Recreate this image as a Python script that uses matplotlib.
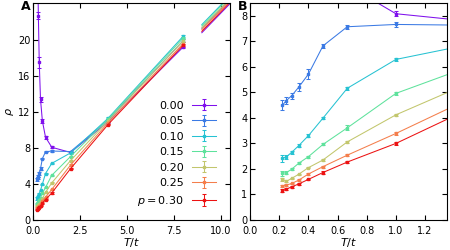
import numpy as np
import matplotlib
matplotlib.use("Agg")
import matplotlib.pyplot as plt

# ---------------- data ----------------
p_labels = ["0.00", "0.05", "0.10", "0.15", "0.20", "0.25", r"$p=$0.30"]
T = [0.2222, 0.25, 0.2857, 0.3333, 0.4, 0.5, 0.6667, 1.0, 2.0, 4.0, 8.0]

rho_p000 = [34.0, 28.0, 22.7, 17.5, 13.4, 11.0, 9.2, 8.08, 7.5, 10.9, 19.2]
rho_p005 = [4.50, 4.68, 4.87, 5.20, 5.71, 6.82, 7.57, 7.66, 7.6, 11.1, 19.9]
rho_p010 = [2.41, 2.48, 2.65, 2.91, 3.30, 3.99, 5.16, 6.29, 7.45, 11.3, 20.4]
rho_p015 = [1.83, 1.86, 1.99, 2.22, 2.48, 2.96, 3.61, 4.96, 7.05, 11.2, 20.2]
rho_p020 = [1.60, 1.52, 1.63, 1.79, 2.05, 2.35, 3.06, 4.12, 6.6, 11.0, 19.9]
rho_p025 = [1.34, 1.37, 1.43, 1.56, 1.80, 2.09, 2.54, 3.39, 6.1, 10.8, 19.6]
rho_p030 = [1.15, 1.21, 1.30, 1.41, 1.59, 1.86, 2.27, 3.00, 5.7, 10.6, 19.4]

err_p000 = [1.0, 0.8, 0.4, 0.6, 0.3, 0.2, 0.15, 0.1, 0.1, 0.1, 0.15]
err_p005 = [0.2, 0.12, 0.12, 0.15, 0.2, 0.07, 0.07, 0.1, 0.1, 0.1, 0.15]
err_p010 = [0.14, 0.08, 0.06, 0.05, 0.05, 0.05, 0.05, 0.06, 0.08, 0.1, 0.15]
err_p015 = [0.1, 0.04, 0.04, 0.04, 0.04, 0.04, 0.1, 0.05, 0.08, 0.1, 0.15]
err_p020 = [0.06, 0.04, 0.03, 0.03, 0.03, 0.03, 0.05, 0.05, 0.08, 0.1, 0.15]
err_p025 = [0.05, 0.03, 0.03, 0.05, 0.03, 0.04, 0.05, 0.05, 0.08, 0.1, 0.15]
err_p030 = [0.06, 0.04, 0.04, 0.03, 0.03, 0.04, 0.05, 0.06, 0.08, 0.1, 0.15]

# high-temperature continuation (separate segment in panel A)
T_hi = [9.0, 11.0]
rho_hi = [[20.8, 25.1], [21.3, 25.6], [21.7, 26.0], [21.55, 25.85],
          [21.35, 25.65], [21.15, 25.45], [20.95, 25.25]]

rho_all = [rho_p000, rho_p005, rho_p010, rho_p015, rho_p020, rho_p025, rho_p030]
err_all = [err_p000, err_p005, err_p010, err_p015, err_p020, err_p025, err_p030]

A_xticks = [0.0, 2.5, 5.0, 7.5, 10.0]
A_yticks = [0, 4, 8, 12, 16, 20]
B_xticks = [0.0, 0.2, 0.4, 0.6, 0.8, 1.0, 1.2]
B_yticks = [0, 1, 2, 3, 4, 5, 6, 7, 8]

colors = ['#7f10ec', '#3b7ae4', '#26c2d2', '#5ee29c', '#c2c66c', '#f47e4c', '#ec1212']

# ---------------- figure ----------------
plt.rcParams['font.family'] = ['DejaVu Sans']
fig = plt.figure(figsize=(4.5, 2.5), dpi=100)
axA = fig.add_axes([33/450, 30/250, 197/450, 217/250])
axB = fig.add_axes([250/450, 30/250, 197/450, 217/250])

handles = []
for ax in (axA, axB):
    for i, (rho, err) in enumerate(zip(rho_all, err_all)):
        h = ax.errorbar(T, rho, yerr=err, color=colors[i], marker='s', ms=1.5,
                        lw=0.75, elinewidth=0.75, capsize=1.5, capthick=0.75,
                        label=p_labels[i], clip_on=True)
        if ax is axA:
            handles.append(h)
for i, rh in enumerate(rho_hi):
    axA.plot(T_hi, rh, color=colors[i], lw=0.75)

for ax in (axA, axB):
    ax.tick_params(direction='in', top=True, right=True, length=3.5, width=0.8,
                   labelsize=7, pad=2)
    ax.tick_params(axis='x', pad=4)
    for s in ax.spines.values():
        s.set_linewidth(0.8)

axA.set_xlim(0, 10.5)
axA.set_ylim(0, 24.1)
axA.set_xticks(A_xticks)
axA.set_xticklabels([f"{v:.1f}" for v in A_xticks])
axA.set_yticks(A_yticks)
axA.set_xlabel(r"$T/t$", fontsize=8, labelpad=0.5)
axA.set_ylabel(r"$\rho$", fontsize=8, labelpad=1)

axB.set_xlim(0, 1.35)
axB.set_ylim(0, 8.5)
axB.set_xticks(B_xticks)
axB.set_xticklabels([f"{v:.1f}" for v in B_xticks])
axB.set_yticks(B_yticks)
axB.set_xlabel(r"$T/t$", fontsize=8, labelpad=0.5)

leg = axA.legend(handles=handles, loc='lower right', bbox_to_anchor=(0.97, 0.02),
                 frameon=False, fontsize=8, markerfirst=False, handlelength=2.2,
                 labelspacing=0.5, handletextpad=0.7, borderpad=0.2)

fig.text(26/450, 1 - 6/250, "A", fontsize=9, fontweight='bold', ha='center', va='center')
fig.text(243/450, 1 - 6/250, "B", fontsize=9, fontweight='bold', ha='center', va='center')

fig.savefig("out.png", dpi=100)
